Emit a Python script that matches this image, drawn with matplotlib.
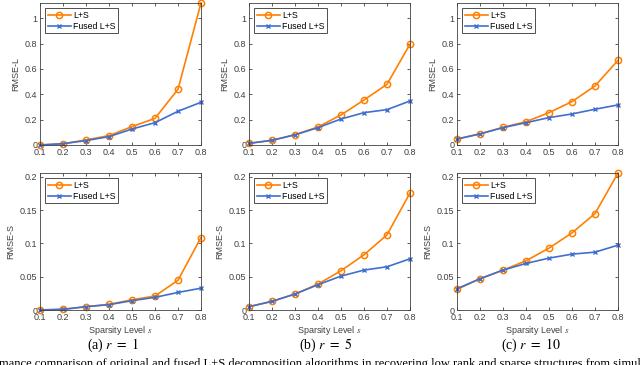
import numpy as np
import matplotlib
matplotlib.use('Agg')
import matplotlib.pyplot as plt

# sparsity levels
sparsity = [0.1, 0.2, 0.3, 0.4, 0.5, 0.6, 0.7, 0.8]

# RMSE-L for r = 1, 5, 10
ls_L_r1 = [0.0, 0.01, 0.04, 0.074, 0.145, 0.21, 0.44, 1.12]
fused_L_r1 = [0.0, 0.01, 0.035, 0.066, 0.126, 0.176, 0.266, 0.337]
ls_L_r5 = [0.013, 0.037, 0.082, 0.142, 0.237, 0.355, 0.479, 0.795]
fused_L_r5 = [0.013, 0.037, 0.080, 0.137, 0.205, 0.255, 0.279, 0.347]
ls_L_r10 = [0.047, 0.089, 0.139, 0.184, 0.255, 0.342, 0.466, 0.668]
fused_L_r10 = [0.047, 0.087, 0.137, 0.176, 0.216, 0.245, 0.282, 0.316]

# RMSE-S for r = 1, 5, 10
ls_S_r1 = [0.0, 0.001, 0.005, 0.0085, 0.0154, 0.021, 0.0448, 0.109]
fused_S_r1 = [0.0, 0.001, 0.005, 0.008, 0.014, 0.019, 0.0264, 0.0328]
ls_S_r5 = [0.005, 0.013, 0.024, 0.039, 0.059, 0.083, 0.113, 0.176]
fused_S_r5 = [0.005, 0.013, 0.024, 0.038, 0.051, 0.060, 0.065, 0.077]
ls_S_r10 = [0.031, 0.047, 0.060, 0.074, 0.093, 0.116, 0.145, 0.206]
fused_S_r10 = [0.032, 0.047, 0.060, 0.070, 0.078, 0.084, 0.087, 0.0975]

subcaptions = ['(a) $r\\ =\\ 1$', '(b) $r\\ =\\ 5$', '(c) $r\\ =\\ 10$']
caption = ('mance comparison of original and fused L+S decomposition algorithms '
           'in recovering low rank and sparse structures from simulated')

plt.rcParams['mathtext.fontset'] = 'stix'
plt.rcParams['font.family'] = 'Liberation Sans'

orange = '#FF8000'
blue = '#3F6FD0'
grey = '#404040'

fig = plt.figure(figsize=(6.4, 3.65), dpi=100)

lefts = [40, 249, 457]
width = 161
sub_x = [113, 326, 531]
top_row = [ls_L_r1, fused_L_r1, ls_L_r5, fused_L_r5, ls_L_r10, fused_L_r10]
bot_row = [ls_S_r1, fused_S_r1, ls_S_r5, fused_S_r5, ls_S_r10, fused_S_r10]


def make_axes(left, top, bottom):
    return fig.add_axes([left / 640, (365 - bottom) / 365, width / 640, (bottom - top) / 365])


def style(ax, ylim, yticks, yticklabels, ylabel):
    ax.set_xlim(0.1, 0.8)
    ax.set_ylim(0, ylim)
    ax.set_xticks(sparsity)
    ax.set_xticklabels(['%.1f' % s for s in sparsity])
    ax.set_yticks(yticks)
    ax.set_yticklabels(yticklabels)
    ax.tick_params(direction='in', length=2, width=0.6, labelsize=6.5, colors=grey,
                   top=True, right=True, pad=2)
    for sp in ax.spines.values():
        sp.set_color(grey)
        sp.set_linewidth(0.6)
    ax.set_ylabel(ylabel, fontsize=6.5, color=grey, labelpad=3)
    leg = ax.legend(loc='upper left', fontsize=6.3, frameon=True, fancybox=False,
                    handlelength=2.6, borderpad=0.3, labelspacing=0.2,
                    handletextpad=0.3, borderaxespad=0.6)
    leg.get_frame().set_edgecolor('black')
    leg.get_frame().set_linewidth(0.6)


for i in range(3):
    ax = make_axes(lefts[i], 3, 145)
    ax.plot(sparsity, top_row[2 * i], color=orange, lw=1.2, marker='o', ms=4.5,
            mfc='none', mew=1.1, label='L+S', clip_on=False)
    ax.plot(sparsity, top_row[2 * i + 1], color=blue, lw=1.2, marker='x', ms=3,
            mew=1.0, label='Fused L+S', clip_on=False)
    style(ax, 1.12, [0, 0.2, 0.4, 0.6, 0.8, 1], ['0', '0.2', '0.4', '0.6', '0.8', '1'], 'RMSE-L')

    ax = make_axes(lefts[i], 173, 310)
    ax.plot(sparsity, bot_row[2 * i], color=orange, lw=1.2, marker='o', ms=4.5,
            mfc='none', mew=1.1, label='L+S', clip_on=False)
    ax.plot(sparsity, bot_row[2 * i + 1], color=blue, lw=1.2, marker='x', ms=3,
            mew=1.0, label='Fused L+S', clip_on=False)
    style(ax, 0.206, [0, 0.05, 0.1, 0.15, 0.2], ['0', '0.05', '0.1', '0.15', '0.2'], 'RMSE-S')
    ax.set_xlabel('Sparsity Level $s$', fontsize=6.5, color=grey, labelpad=1.5)

    fig.text(sub_x[i] / 640, 1 - 345 / 365, subcaptions[i], ha='center', va='center',
             fontsize=10, family='Liberation Serif')

fig.text(-0.002, 1 - 364 / 365, caption, ha='left', va='center',
         fontsize=9, family='Liberation Serif')

fig.savefig('out.png', dpi=100)
